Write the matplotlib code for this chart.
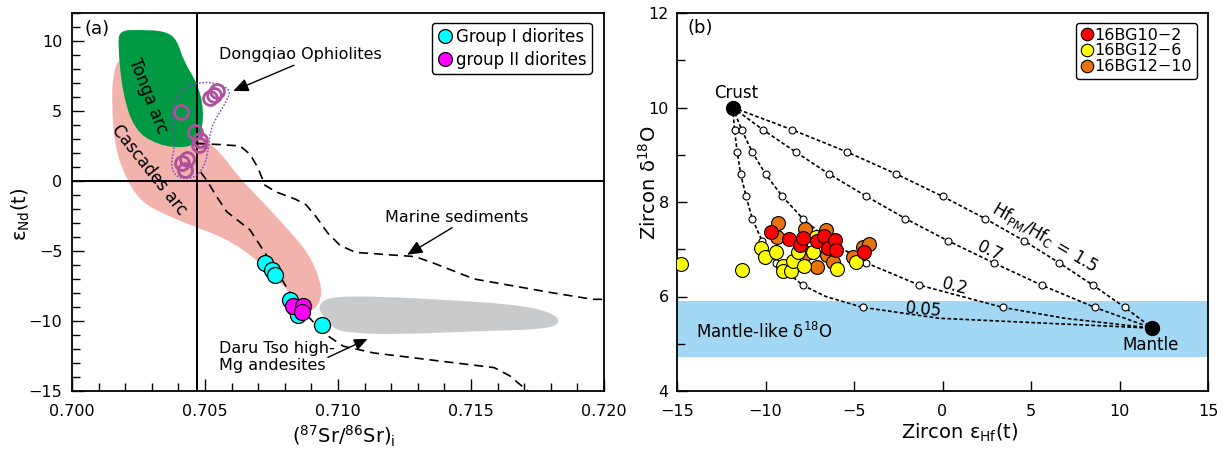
import numpy as np
import matplotlib
matplotlib.use("Agg")
import matplotlib.pyplot as plt
from matplotlib.path import Path
from matplotlib.patches import PathPatch
from matplotlib.ticker import MultipleLocator

plt.rcParams['font.family'] = ['DejaVu Sans']
plt.rcParams['mathtext.fontset'] = 'dejavusans'

# ---------------- Panel (a) data ----------------
g1_sr = [0.70726, 0.70751, 0.70763, 0.70820, 0.70838, 0.70851, 0.70939]
g1_nd = [-5.86, -6.34, -6.70, -8.48, -9.07, -9.54, -10.26]
g2_sr = [0.70832, 0.70870, 0.70863]
g2_nd = [-8.95, -8.95, -9.38]
oph_sr = [0.70410, 0.70462, 0.70481, 0.70477, 0.70412, 0.70433, 0.70425, 0.70519, 0.70532, 0.70546]
oph_nd = [4.94, 3.51, 2.92, 2.56, 1.26, 1.55, 0.78, 5.95, 6.15, 6.42]

tonga_sr = [0.70172, 0.70180, 0.70250, 0.70350, 0.70395, 0.70418, 0.70472, 0.70497, 0.70482,
            0.70428, 0.70323, 0.70235, 0.70190]
tonga_nd = [9.8, 10.75, 10.8, 10.72, 10.1, 8.62, 6.96, 5.06, 2.92,
            2.33, 2.56, 3.63, 6.25]

casc_sr = [0.70175, 0.70153, 0.70150, 0.70160, 0.70205, 0.70264, 0.70368, 0.70443, 0.70591, 0.70710,
           0.70799, 0.70859, 0.70903, 0.70940, 0.70933, 0.70889, 0.70814, 0.70710, 0.70636, 0.70561,
           0.70502, 0.70470, 0.70420, 0.70300]
casc_nd = [8.9, 7.43, 5.5, 2.45, 0.07, -1.59, -2.54, -3.13, -4.2, -5.86,
           -7.53, -8.95, -9.4, -8.36, -7.05, -5.15, -3.49, -1.35, 0.07, 1.97,
           2.92, 4.0, 6.5, 8.9]

daru_sr = [0.70925, 0.70960, 0.71045, 0.71233, 0.71364, 0.71661, 0.71800, 0.71841, 0.71780,
           0.71511, 0.71215, 0.71045, 0.70981, 0.70940]
daru_nd = [-8.9, -8.35, -8.22, -8.32, -8.45, -8.8, -9.35, -10.1, -10.6,
           -10.73, -10.97, -10.85, -10.55, -9.6]

ophline_sr = [0.70469, 0.70519, 0.70594, 0.70588, 0.70544, 0.70519, 0.70512, 0.70488, 0.70444,
              0.70387, 0.70371, 0.70387, 0.70379, 0.70375, 0.70400, 0.70437]
ophline_nd = [6.96, 7.1, 6.6, 5.9, 4.58, 3.63, 1.97, 0.66, 0.12,
              0.31, 1.26, 2.44, 3.63, 5.06, 6.13, 6.84]

marine1_sr = [0.70469, 0.70560, 0.70632, 0.70670, 0.70700, 0.70725, 0.70770, 0.70840, 0.70880,
              0.70917, 0.70962, 0.71008, 0.71066, 0.71215, 0.71290, 0.71364, 0.71512, 0.71661,
              0.71810, 0.71958, 0.72000]
marine1_nd = [2.68, 2.6, 2.5, 1.9, 0.9, -0.3, -0.8, -1.3, -1.7,
              -2.54, -3.73, -4.6, -5.1, -5.3, -5.4, -5.9, -7.0, -7.5,
              -8.0, -8.45, -8.45]
marine2_sr = [0.70469, 0.70469, 0.70506, 0.70544, 0.70582, 0.70669, 0.70726, 0.70782, 0.70820,
              0.70870, 0.70945, 0.71020, 0.71133, 0.71233, 0.71400, 0.71587, 0.71647, 0.71698, 0.71715]
marine2_nd = [2.68, 1.0, 0.07, -1.12, -2.2, -3.49, -5.15, -6.82, -8.0,
              -9.3, -10.85, -11.8, -12.28, -12.51, -12.9, -13.33, -13.93, -14.76, -15.0]

ref_sr = 0.7047
ref_nd = 0.0

# ---------------- Panel (b) data ----------------
red_hf = [-9.71, -8.65, -8.05, -7.90, -7.11, -6.69, -6.45, -6.07, -6.03, -4.44]
red_o = [7.36, 7.21, 7.09, 7.23, 7.18, 7.27, 7.02, 7.20, 6.98, 6.94]
yel_hf = [-14.8, -11.35, -10.27, -10.03, -9.41, -9.00, -9.03, -8.58, -8.43, -8.15, -7.82, -7.30, -7.16, -5.98, -4.89]
yel_o = [6.68, 6.56, 7.02, 6.84, 6.94, 6.65, 6.55, 6.54, 6.76, 6.95, 6.65, 6.95, 7.25, 6.58, 6.72]
ora_hf = [-9.27, -9.37, -7.77, -6.58, -6.54, -7.11, -6.17, -5.07, -4.51, -4.14, -7.67]
ora_o = [7.55, 7.25, 7.42, 7.41, 6.88, 6.63, 6.72, 6.84, 7.04, 7.11, 6.92]

crust = (-11.85, 10.0)
mantle = (11.85, 5.33)
mix_o = [9.53, 9.06, 8.59, 8.12, 7.65, 7.18, 6.71, 6.24, 5.77]
mix_15 = [-8.5, -5.4, -2.6, 0.0, 2.4, 4.6, 6.6, 8.5, 10.3]
mix_07 = [-10.15, -8.3, -6.4, -4.3, -2.1, 0.3, 2.9, 5.6, 8.6]
mix_02 = [-11.35, -10.75, -10.0, -9.05, -7.9, -6.4, -4.3, -1.3, 3.4]
mix_005 = [-11.75, -11.6, -11.4, -11.1, -10.75, -10.2, -9.4, -7.9, -4.5]
# extra points read along the curved segments
extra_02 = [(6.9, 5.54)]
extra_005 = [(-6.6, 6.0), (-0.2, 5.54)]
band_o = (4.72, 5.9)

# ---------------- helpers ----------------
def smooth_patch(xs, ys, **kw):
    pts = np.column_stack([xs, ys])
    n = len(pts)
    mids = (pts + np.roll(pts, -1, axis=0)) / 2.0
    verts = [mids[-1]]
    codes = [Path.MOVETO]
    for i in range(n):
        verts += [pts[i], mids[i]]
        codes += [Path.CURVE3, Path.CURVE3]
    return PathPatch(Path(verts, codes), **kw)

fig = plt.figure(figsize=(12.26, 4.54), dpi=100)
axa = fig.add_axes([72/1226, 63/454, 532/1226, 378/454])
axb = fig.add_axes([677/1226, 63/454, 531/1226, 378/454])

# ================= Panel (a) =================
axa.add_patch(smooth_patch(casc_sr, casc_nd, facecolor='#f2b3ad', edgecolor='none', zorder=1))
axa.add_patch(smooth_patch(tonga_sr, tonga_nd, facecolor='#009a44', edgecolor='none', zorder=2))
axa.add_patch(smooth_patch(daru_sr, daru_nd, facecolor='#c9cacb', edgecolor='none', zorder=1))
axa.add_patch(smooth_patch(ophline_sr, ophline_nd, facecolor='none', edgecolor='#7f44c4',
                           lw=1.0, linestyle=(0, (1.2, 1.2)), zorder=4))

axa.axvline(ref_sr, color='black', lw=1.4, zorder=3)
axa.axhline(ref_nd, color='black', lw=1.4, zorder=3)

dash = (0, (5.5, 3.5))
axa.plot(marine1_sr, marine1_nd, color='black', lw=1.2, linestyle=dash, zorder=3)
axa.plot(marine2_sr, marine2_nd, color='black', lw=1.2, linestyle=dash, zorder=3)
axa.plot([marine1_sr[0]], [marine1_nd[0]], marker='+', color='black', ms=7, mew=1.0, zorder=3)

axa.plot(oph_sr, oph_nd, 'o', ms=10, mfc='none', mec='#b0509c', mew=2.0, zorder=5)
axa.plot(g1_sr, g1_nd, 'o', ms=11.5, mfc='#00ffff', mec='black', mew=0.9, zorder=6,
         label='Group I diorites')
axa.plot(g2_sr, g2_nd, 'o', ms=11.5, mfc='#ff00ff', mec='black', mew=0.9, zorder=7,
         label='group II diorites')

axa.set_xlim(0.700, 0.720)
axa.set_ylim(-15, 12)
axa.xaxis.set_minor_locator(MultipleLocator(0.001))
axa.yaxis.set_major_locator(MultipleLocator(5))
axa.yaxis.set_minor_locator(MultipleLocator(1))
axa.set_xticks([0.700, 0.705, 0.710, 0.715, 0.720])
axa.set_xticklabels(['0.700', '0.705', '0.710', '0.715', '0.720'])
axa.tick_params(which='major', direction='in', length=8.5, width=1.0, labelsize=11.5)
axa.tick_params(which='minor', direction='in', length=5.5, width=1.0)
axa.tick_params(axis='x', which='major', pad=9)
axa.tick_params(axis='y', which='major', pad=7)
for s in axa.spines.values():
    s.set_linewidth(1.3)

axa.set_xlabel('($^{87}$Sr/$^{86}$Sr)$_{\\rm i}$', fontsize=14)
axa.xaxis.set_label_coords(0.511, -0.088)
axa.set_ylabel('ε$_{\\rm Nd}$(t)', fontsize=14)
axa.yaxis.set_label_coords(-0.075, 0.468)

axa.text(0.70093, 10.87, '(a)', fontsize=13, ha='center', va='center')
axa.text(0.70286, 6.1, 'Tonga arc', fontsize=12, rotation=-68.5, ha='center', va='center',
         rotation_mode='anchor', zorder=8)
axa.text(0.70290, 0.8, 'Cascades arc', fontsize=12, rotation=-51.5, ha='center', va='center',
         rotation_mode='anchor', zorder=8)
axa.annotate('Dongqiao Ophiolites', xy=(0.70606, 6.43), xytext=(0.70553, 9.0),
             fontsize=11.5, ha='left', va='center',
             arrowprops=dict(arrowstyle='-|>,head_length=0.8,head_width=0.35', color='black', lw=1.0,
                             shrinkA=0, shrinkB=0, relpos=(0.5, 0.0)))
axa.annotate('Marine sediments', xy=(0.71260, -5.27), xytext=(0.71177, -2.6),
             fontsize=11.5, ha='left', va='center',
             arrowprops=dict(arrowstyle='-|>,head_length=0.8,head_width=0.35', color='black', lw=1.0,
                             shrinkA=0, shrinkB=0, relpos=(0.5, 0.0)))
axa.text(0.70553, -12.6, 'Daru Tso high-\nMg andesites', fontsize=11.5, ha='left', va='center',
         linespacing=1.15)
axa.annotate('', xy=(0.71111, -11.28), xytext=(0.70962, -12.6),
             arrowprops=dict(arrowstyle='-|>,head_length=0.8,head_width=0.35', color='black', lw=1.0,
                             shrinkA=0, shrinkB=0))

lega = axa.legend(loc='upper right', bbox_to_anchor=(0.977, 0.974), borderaxespad=0,
                  fontsize=12, handletextpad=0.15, handlelength=1.0, borderpad=0.3,
                  labelspacing=0.3, fancybox=True, framealpha=1, edgecolor='black')
lega.get_frame().set_linewidth(1.0)
for h in lega.legend_handles:
    h.set_markersize(10)

# ================= Panel (b) =================
axb.axhspan(band_o[0], band_o[1], color='#a2d8f3', lw=0, zorder=0)

mdash = (0, (2.2, 1.4))
curves = [(mix_15, []), (mix_07, []), (mix_02, extra_02), (mix_005, extra_005)]
for eps, extra in curves:
    pts = [crust] + list(zip(eps, mix_o)) + list(extra) + [mantle]
    pts = sorted(pts, key=lambda p: -p[1])
    axb.plot([p[0] for p in pts], [p[1] for p in pts], color='black', lw=1.2,
             linestyle=mdash, zorder=2)
    axb.plot(eps, mix_o, 'o', ms=5, mfc='white', mec='black', mew=0.8, zorder=3)

axb.plot([crust[0], mantle[0]], [crust[1], mantle[1]], 'o', ms=10, color='black', zorder=4,
         linestyle='none')

axb.plot(ora_hf, ora_o, 'o', ms=10, mfc='#e8720c', mec='black', mew=0.8, zorder=5,
         label='16BG12−10')
axb.plot(yel_hf, yel_o, 'o', ms=10, mfc='#ffff00', mec='black', mew=0.8, zorder=6,
         label='16BG12−6')
axb.plot(red_hf, red_o, 'o', ms=10, mfc='#ff0000', mec='black', mew=0.8, zorder=7,
         label='16BG10−2')

axb.set_xlim(-15, 15)
axb.set_ylim(4, 12)
axb.xaxis.set_major_locator(MultipleLocator(5))
axb.yaxis.set_major_locator(MultipleLocator(2))
axb.yaxis.set_minor_locator(MultipleLocator(1))
axb.tick_params(which='major', direction='in', length=7, width=1.0, labelsize=11.5)
axb.tick_params(which='minor', direction='in', length=6, width=1.0)
axb.tick_params(axis='x', which='major', pad=9)
axb.tick_params(axis='y', which='major', pad=6)
for s in axb.spines.values():
    s.set_linewidth(1.3)

axb.set_xlabel('Zircon ε$_{\\rm Hf}$(t)', fontsize=14)
axb.xaxis.set_label_coords(0.533, -0.08)
axb.set_ylabel('Zircon δ$^{18}$O', fontsize=14)
axb.yaxis.set_label_coords(-0.032, 0.55)

axb.text(-13.7, 11.68, '(b)', fontsize=13, ha='center', va='center')
axb.text(-11.67, 10.31, 'Crust', fontsize=12, ha='center', va='center')
axb.text(11.76, 4.97, 'Mantle', fontsize=12, ha='center', va='center')
axb.text(-13.93, 5.26, 'Mantle-like δ$^{18}$O', fontsize=12, ha='left', va='center')
axb.text(5.79, 7.25, 'Hf$_{\\rm PM}$/Hf$_{\\rm C}$ = 1.5', fontsize=12, ha='center', va='center',
         rotation=-30.5, rotation_mode='anchor')
axb.text(2.68, 6.95, '0.7', fontsize=12, ha='center', va='center', rotation=-26,
         rotation_mode='anchor')
axb.text(0.71, 6.22, '0.2', fontsize=12, ha='center', va='center', rotation=-14.5,
         rotation_mode='anchor')
axb.text(-1.05, 5.72, '0.05', fontsize=12, ha='center', va='center', rotation=-5,
         rotation_mode='anchor')

handles, labels = axb.get_legend_handles_labels()
order = [2, 1, 0]
legb = axb.legend([handles[i] for i in order], [labels[i] for i in order],
                  loc='upper right', bbox_to_anchor=(0.979, 0.974), borderaxespad=0,
                  fontsize=11.5, handletextpad=0.05, handlelength=0.8, borderpad=0.3,
                  labelspacing=0.05, fancybox=True, framealpha=1, edgecolor='black')
legb.get_frame().set_linewidth(1.0)
for h in legb.legend_handles:
    h.set_markersize(9)

fig.savefig('out.png', dpi=100)
